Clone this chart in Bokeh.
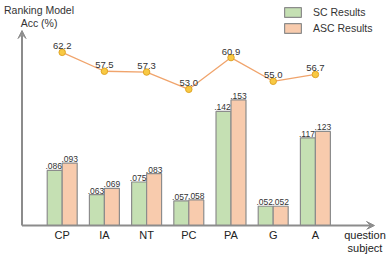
from bokeh.plotting import figure
from bokeh.models import (Range1d, Arrow, VeeHead, Label, Legend, LegendItem,
                          ColumnDataSource, FixedTicker)
from bokeh.core.properties import value
from bokeh.embed import file_html
from bokeh.resources import INLINE

categories = ["CP", "IA", "NT", "PC", "PA", "G", "A"]
sc_results = [0.086, 0.063, 0.075, 0.057, 0.142, 0.052, 0.117]
asc_results = [0.093, 0.069, 0.083, 0.058, 0.153, 0.052, 0.123]
ranking_acc = [62.2, 57.5, 57.3, 53.0, 60.9, 55.0, 56.7]
x_title = "question\nsubject"
y_title = ["Ranking Model", "Acc (%)"]

BASE = 0.0337          # value at the drawn x-axis line
FONT = "Liberation Sans"
TXT = "#333333"
GREY = "#8c8c8c"

# pixel scale helpers (frame spans whole width, top 229 px)
PX_X = 42.2
X0PX = 61.7
PX_Y = 1053.0
BASEPX = 225.0

def xd(px):
    return (px - X0PX) / PX_X

def yd(px):
    return BASE + (BASEPX - px) / PX_Y

xs = list(range(len(categories)))
bw = 0.355
src = ColumnDataSource(dict(
    x=xs,
    xg=[i - bw / 2 for i in xs],
    xo=[i + bw / 2 for i in xs],
    sc=sc_results, asc=asc_results, acc=ranking_acc,
    sc_lab=[f"{v:.3f}"[1:] for v in sc_results],
    asc_lab=[f"{v:.3f}"[1:] for v in asc_results],
    acc_lab=[f"{v:.1f}" for v in ranking_acc],
))

p = figure(frame_width=388, frame_height=229, output_backend="svg",
           toolbar_location=None,
           x_range=Range1d(xd(0), xd(388)), y_range=Range1d(yd(229), yd(0)),
           y_axis_location=None, min_border=0, min_border_bottom=30,
           outline_line_color=None, background_fill_color="white")
p.grid.visible = False
# accuracy axis: 57.51 at 70.71 px, 4.016 px per point
p.extra_y_ranges = {"acc": Range1d(57.51 - (229 - 70.71) / 4.016,
                                   57.51 + 70.71 / 4.016)}

QX = xd(364.5)
ax = p.xaxis[0]
ax.ticker = FixedTicker(ticks=xs + [QX])
overrides = {i: c for i, c in zip(xs, categories)}
overrides[QX] = x_title
ax.major_label_overrides = overrides
ax.axis_line_color = None
ax.major_tick_line_color = None
ax.minor_tick_line_color = None
ax.major_tick_in = 0
ax.major_tick_out = 0
ax.major_label_standoff = -1
ax.major_label_text_font = FONT
ax.major_label_text_font_size = "11px"
ax.major_label_text_color = "#222222"
ax.major_label_text_line_height = 1.12

r_sc = p.vbar(x="xg", width=bw, top="sc", bottom=BASE, source=src,
              fill_color="#c5e0b3", line_color=GREY, line_width=1.2)
r_asc = p.vbar(x="xo", width=bw, top="asc", bottom=BASE, source=src,
               fill_color="#f8cbad", line_color=GREY, line_width=1.2)

p.text(x="xg", y="sc", text="sc_lab", source=src, text_font=value(FONT),
       text_font_size="8.5px", text_color=TXT, text_align="center",
       text_baseline="alphabetic", y_offset=-4, x_offset=-1)
p.text(x="xo", y="asc", text="asc_lab", source=src, text_font=value(FONT),
       text_font_size="8.5px", text_color=TXT, text_align="center",
       text_baseline="alphabetic", y_offset=-4)

p.line(x="x", y="acc", source=src, y_range_name="acc",
       line_color="#f0a46c", line_width=1.3)
p.scatter(x="x", y="acc", source=src, y_range_name="acc", size=6.5,
          fill_color="#f8c943", line_color="#e0a526", line_width=1)
p.text(x="x", y="acc", text="acc_lab", source=src, y_range_name="acc",
       text_font=value(FONT), text_font_size="9.5px", text_color=TXT,
       text_align="center", text_baseline="alphabetic", y_offset=-6)

# axis arrows
xa = xd(21.5)
p.add_layout(Arrow(x_start=xa, y_start=BASE, x_end=xa, y_end=yd(30),
                   line_color=GREY, line_width=2,
                   end=VeeHead(size=8, fill_color=GREY, line_color=GREY, line_width=1)))
p.add_layout(Arrow(x_start=xa, y_start=BASE, x_end=xd(374), y_end=BASE,
                   line_color=GREY, line_width=2,
                   end=VeeHead(size=8, fill_color=GREY, line_color=GREY, line_width=1)))

# y axis title
for t, yy in zip(y_title, (9.5, 22.5)):
    p.add_layout(Label(x=xd(38.5), y=yd(yy), text=t, text_font=FONT,
                       text_font_size="10.5px", text_color=TXT,
                       text_align="center", text_baseline="middle"))

legend = Legend(items=[LegendItem(label="SC Results", renderers=[r_sc]),
                       LegendItem(label="ASC Results", renderers=[r_asc])],
                location=(282, 195), orientation="vertical",
                glyph_width=21, glyph_height=12, label_height=12,
                label_standoff=10, spacing=4, padding=0, margin=0,
                border_line_color=None, background_fill_alpha=0,
                label_text_font=FONT, label_text_font_size="10.5px",
                label_text_color=TXT)
p.add_layout(legend)

open("out.html", "w").write(file_html(p, INLINE))
